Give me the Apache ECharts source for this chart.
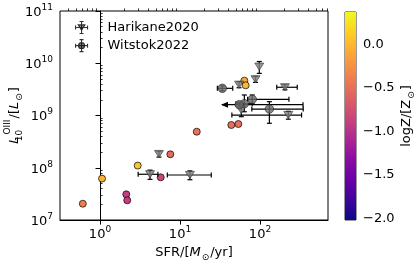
<!DOCTYPE html>
<html>
<head>
<meta charset="utf-8">
<script src="https://cdn.jsdelivr.net/npm/echarts@6/dist/echarts.min.js"></script>
<style>html,body{margin:0;padding:0;background:#fff}#c{width:416px;height:262px}</style>
</head>
<body>
<div id="c"></div>
<script>
// ---- data (linear units) ----
// This work (coloured by metallicity)
const thisSFR = [0.61, 1.06, 2.13, 2.19, 2.96, 7.57, 5.74, 16.2, 43.8, 53.6, 63.7, 66.2];
const thisL   = [2.05e7, 6.2e7, 3.1e7, 2.38e7, 1.1e8, 1.81e8, 6.56e7, 4.9e8, 6.58e8, 6.87e8, 4.64e9, 3.78e9];
const thisZ   = [-0.39, -0.04, -0.9, -0.9, 0.08, -0.54, -0.83, -0.47, -0.5, -0.5, -0.1, 0.0];

// Harikane2020
const hSFR   = [98, 88, 54.7, 205, 58.4, 226, 5.46, 4.22, 13.3];
const hL     = [8.6e9, 4.93e9, 3.88e9, 3.47e9, 1.27e9, 1.02e9, 1.83e8, 7.5e7, 7.26e7];
const hSFRlo = [null, null, null, 162, null, 44.5, null, 3.0, 6.94];
const hSFRhi = [null, null, null, 292, null, 331, null, 5.3, 24.6];
const hLlo   = [6.4e9, 4.3e9, 3.4e9, 3.1e9, 0.95e9, 0.85e9, 1.6e8, 6.0e7, 5.9e7];
const hLhi   = [1.08e10, 5.6e9, 4.4e9, 3.9e9, 1.6e9, 1.2e9, 2.05e8, 9.0e7, 8.7e7];

// Witstok2022
const wSFR   = [33.8, 80, 63.7, 55, 131];
const wL     = [3.31e9, 2.04e9, 1.68e9, 1.61e9, 1.33e9];
const wSFRlo = [29.3, 70, 50, 33.5, 79];
const wSFRhi = [45.6, 230, 80, 345, 347];
const wLlo   = [2.95e9, 1.67e9, 1.18e9, 1.45e9, 7.1e8];
const wLhi   = [3.7e9, 2.47e9, 2.47e9, 1.8e9, 1.84e9];
const wSFRupperLimit = [0, 0, 0, 1, 0];

// axis ticks
const xMajor = [0, 1, 2];
const yMajor = [7, 8, 9, 10, 11];
const cbTicks = [-2.0, -1.5, -1.0, -0.5, 0.0];
const zMin = -2.02, zMax = 0.37;
const plasma = ['#0d0887','#41049d','#6a00a8','#8f0da4','#b12a90','#cc4778','#e16462','#f2844b','#fca636','#fcce25','#f0f921'];

// ---- helpers ----
const lg = v => (v == null ? NaN : Math.log10(v));
const xMin = -0.5, xMax = 2.85, yMin = 7, yMax = 11;
const minorX = [], minorY = [];
for (let d = -1; d <= 2; d++) for (let k = 2; k <= 9; k++) { const v = d + Math.log10(k); if (v > xMin && v < xMax) minorX.push(v); }
for (let d = 7; d <= 10; d++) for (let k = 2; k <= 9; k++) minorY.push(d + Math.log10(k));

const FONT = 'DejaVu Sans';
const powRich = {
  b: { fontSize: 13, fontFamily: FONT, color: '#000', verticalAlign: 'bottom', lineHeight: 16 },
  e: { fontSize: 9, fontFamily: FONT, color: '#000', verticalAlign: 'top', lineHeight: 16 }
};
const powFmt = v => '{b|10}{e|' + Math.round(v) + '}';

const thisData = thisSFR.map((s, i) => [lg(s), lg(thisL[i]), thisZ[i]]);
const hData = hSFR.map((s, i) => [lg(s), lg(hL[i])]);
const wData = wSFR.map((s, i) => [lg(s), lg(wL[i])]);
const errData = [];
hSFR.forEach((s, i) => errData.push([lg(s), lg(hL[i]), lg(hSFRlo[i]), lg(hSFRhi[i]), lg(hLlo[i]), lg(hLhi[i]), 0]));
wSFR.forEach((s, i) => errData.push([lg(s), lg(wL[i]), lg(wSFRlo[i]), lg(wSFRhi[i]), lg(wLlo[i]), lg(wLhi[i]), wSFRupperLimit[i]]));

const triPath = 'path://M0 0 L10 0 L5 9 Z';
const triIcon = 'path://M5 6 L15 6 L10 14 Z M1 10 L19 10 M1 7 L1 13 M19 7 L19 13 M10 1 L10 19 M7 1 L13 1 M7 19 L13 19';
const cirIcon = 'path://M5.5 10 A4.5 4.5 0 1 1 14.5 10 A4.5 4.5 0 1 1 5.5 10 Z M1 10 L19 10 M1 7 L1 13 M19 7 L19 13 M10 1 L10 19 M7 1 L13 1 M7 19 L13 19';

const mainTok = (italic, lh) => ({ fontSize: 13, fontFamily: FONT, fontStyle: italic ? 'italic' : 'normal', color: '#000',
  verticalAlign: 'bottom', lineHeight: lh || 20, padding: [0, 0, 3, 0] });
const subTok = (extra, lh) => Object.assign({ fontSize: 9, fontFamily: FONT, color: '#000', verticalAlign: 'bottom', lineHeight: lh || 20, padding: [0, 1, 0, 1] }, extra || {});

const chart = echarts.init(document.getElementById('c'), null, { renderer: 'canvas' });
const LW = 1.2;
chart.setOption({
  animation: false,
  backgroundColor: '#fff',
  textStyle: { fontFamily: FONT },
  grid: [
    { left: 60, top: 11, width: 268, height: 209, show: true, borderColor: '#000', borderWidth: 1, backgroundColor: 'transparent', outerBoundsMode: 'none', containLabel: false },
    { left: 345, top: 12, width: 11, height: 208, show: true, borderColor: '#000', borderWidth: 0.8, backgroundColor: 'transparent', outerBoundsMode: 'none', containLabel: false }
  ],
  xAxis: [
    { type: 'value', gridIndex: 0, min: xMin, max: xMax,
      axisLine: { show: true, lineStyle: { color: '#000', width: 1 } },
      axisTick: { show: true, inside: false, length: 4.5, lineStyle: { color: '#000', width: 1 }, customValues: xMajor },
      axisLabel: { show: true, customValues: xMajor, formatter: powFmt, rich: powRich, margin: 5 },
      splitLine: { show: false },
      name: '{t|SFR/[}{i|M}{s|⊙}{t|/yr]}', nameLocation: 'middle', nameGap: 18,
      nameTextStyle: { rich: { t: mainTok(false), i: mainTok(true), s: subTok() } }
    },
    { type: 'value', gridIndex: 0, min: xMin, max: xMax, axisLine: { show: false },
      axisTick: { show: true, length: 2.6, lineStyle: { color: '#000', width: 0.8 }, customValues: minorX },
      axisLabel: { show: false }, splitLine: { show: false } },
    { type: 'value', gridIndex: 1, min: 0, max: 1, show: false }
  ],
  yAxis: [
    { type: 'value', gridIndex: 0, min: yMin, max: yMax,
      axisLine: { show: true, lineStyle: { color: '#000', width: 1 } },
      axisTick: { show: true, length: 4.5, lineStyle: { color: '#000', width: 1 }, customValues: yMajor },
      axisLabel: { show: true, customValues: yMajor, formatter: powFmt, rich: powRich, margin: 7 },
      splitLine: { show: false },
      name: '{i|L}{sb|10}{sp|OIII}{t|/[}{i|L}{s|⊙}{t|]}', nameLocation: 'middle', nameRotate: 90, nameGap: 36,
      nameMoveOverlap: false,
      nameTextStyle: { rich: {
        t: mainTok(false, 22), i: mainTok(true, 22),
        sb: subTok({ width: 0.01, padding: [0, 0, 0, 1] }, 22),
        sp: subTok({ verticalAlign: 'top', padding: [1, 1, 0, 1] }, 22),
        s: subTok(null, 22)
      } }
    },
    { type: 'value', gridIndex: 0, min: yMin, max: yMax, axisLine: { show: false },
      axisTick: { show: true, length: 2.6, lineStyle: { color: '#000', width: 0.8 }, customValues: minorY },
      axisLabel: { show: false }, splitLine: { show: false } },
    { type: 'value', gridIndex: 1, min: zMin, max: zMax, position: 'right',
      axisLine: { show: false },
      axisTick: { show: true, length: 4.5, lineStyle: { color: '#000', width: 1 }, customValues: cbTicks },
      axisLabel: { show: true, customValues: cbTicks, margin: 7, fontSize: 13, fontFamily: FONT, color: '#000',
        formatter: v => v.toFixed(1).replace('-', '\u2212') },
      splitLine: { show: false },
      name: '{t|logZ/[Z}{s|⊙}{t|]}', nameLocation: 'middle', nameRotate: 90, nameGap: 40,
      nameTextStyle: { rich: { t: mainTok(false), s: subTok() } }
    }
  ],
  visualMap: { type: 'continuous', show: false, min: zMin, max: zMax, dimension: 2, seriesIndex: 0, inRange: { color: plasma } },
  legend: {
    orient: 'vertical', left: 70, top: 16, padding: 5, itemWidth: 12, itemHeight: 13, itemGap: 5,
    textStyle: { fontSize: 13, fontFamily: FONT, color: '#000', padding: [0, 0, 0, 15] },
    itemStyle: { borderColor: '#000', borderWidth: 1.1 },
    data: [ { name: 'Harikane2020', icon: triIcon }, { name: 'Witstok2022', icon: cirIcon } ]
  },
  series: [
    { name: 'This work', type: 'scatter', xAxisIndex: 0, yAxisIndex: 0, data: thisData, symbol: 'circle', symbolSize: 7,
      itemStyle: { borderColor: '#000', borderWidth: 0.7, opacity: 1 }, z: 3 },
    { name: 'errbars', type: 'custom', xAxisIndex: 0, yAxisIndex: 0, data: errData, z: 4, silent: true,
      encode: { x: [0, 2, 3], y: [1, 4, 5] },
      renderItem: function (params, api) {
        const x = api.value(0), y = api.value(1), xl = api.value(2), xh = api.value(3), yl = api.value(4), yh = api.value(5), arr = api.value(6);
        const c = api.coord([x, y]);
        const kids = [];
        const ls = { stroke: '#000', lineWidth: LW };
        const cap = 2.5;
        if (isFinite(xl) && isFinite(xh)) {
          const a = api.coord([xl, y])[0], b = api.coord([xh, y])[0];
          kids.push({ type: 'line', shape: { x1: a, y1: c[1], x2: b, y2: c[1] }, style: ls });
          kids.push({ type: 'line', shape: { x1: b, y1: c[1] - cap, x2: b, y2: c[1] + cap }, style: ls });
          if (arr) {
            kids.push({ type: 'polygon', shape: { points: [[a - 1, c[1]], [a + 6, c[1] - 3], [a + 6, c[1] + 3]] }, style: { fill: '#000' } });
          } else {
            kids.push({ type: 'line', shape: { x1: a, y1: c[1] - cap, x2: a, y2: c[1] + cap }, style: ls });
          }
        }
        if (isFinite(yl) && isFinite(yh)) {
          const a = api.coord([x, yl])[1], b = api.coord([x, yh])[1];
          kids.push({ type: 'line', shape: { x1: c[0], y1: a, x2: c[0], y2: b }, style: ls });
          kids.push({ type: 'line', shape: { x1: c[0] - cap, y1: a, x2: c[0] + cap, y2: a }, style: ls });
          kids.push({ type: 'line', shape: { x1: c[0] - cap, y1: b, x2: c[0] + cap, y2: b }, style: ls });
        }
        return { type: 'group', children: kids };
      }
    },
    { name: 'Harikane2020', type: 'scatter', xAxisIndex: 0, yAxisIndex: 0, data: hData, symbol: triPath, symbolSize: [9, 8],
      symbolKeepAspect: true, itemStyle: { color: '#808080', borderColor: '#333', borderWidth: 0.8 }, z: 5 },
    { name: 'Witstok2022', type: 'scatter', xAxisIndex: 0, yAxisIndex: 0, data: wData, symbol: 'circle', symbolSize: 8.5,
      itemStyle: { color: '#6a6a6a', borderColor: '#222', borderWidth: 0.8 }, z: 6 },
    { name: 'colorbar', type: 'custom', xAxisIndex: 2, yAxisIndex: 2, data: [[0.5, 0]], silent: true, z: 1,
      renderItem: function (params, api) {
        const p0 = api.coord([0, zMax]), p1 = api.coord([1, zMin]);
        const stops = plasma.map((col, i) => ({ offset: 1 - i / (plasma.length - 1), color: col })).reverse();
        return { type: 'rect', shape: { x: p0[0], y: p0[1], width: p1[0] - p0[0], height: p1[1] - p0[1] },
          style: { fill: new echarts.graphic.LinearGradient(0, 0, 0, 1, stops) } };
      }
    }
  ]
});
</script>
</body>
</html>
